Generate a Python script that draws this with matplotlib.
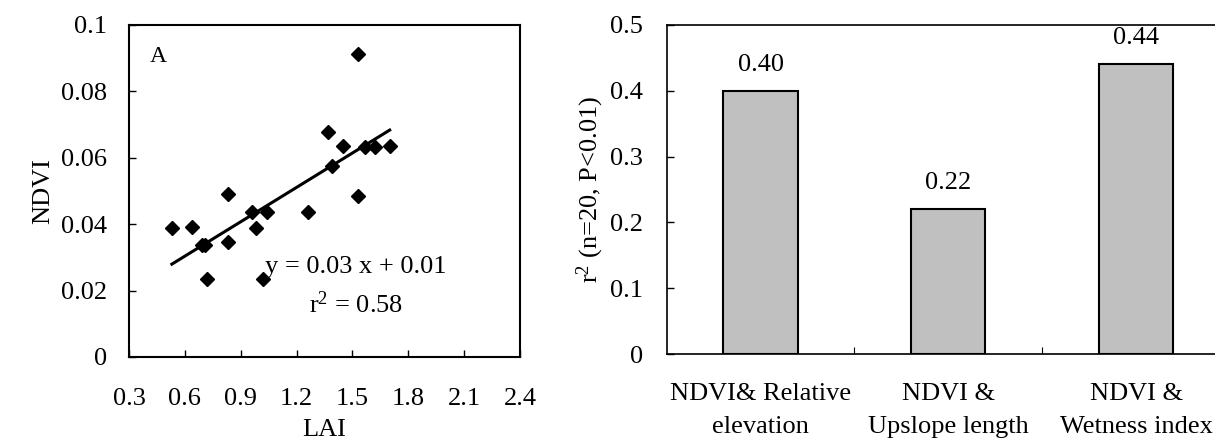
import numpy as np
import matplotlib
matplotlib.use("Agg")
import matplotlib.pyplot as plt

# LAI vs NDVI samples (n=20)
lai = [0.53, 0.64, 0.69, 0.71, 0.72, 0.83, 0.83, 0.96, 0.98, 1.02,
       1.04, 1.26, 1.37, 1.39, 1.45, 1.53, 1.53, 1.57, 1.62, 1.70]
ndvi = [0.0388, 0.0393, 0.0337, 0.0337, 0.0234, 0.0490, 0.0347, 0.0438, 0.0388, 0.0234,
        0.0438, 0.0438, 0.0679, 0.0576, 0.0636, 0.0913, 0.0485, 0.0634, 0.0634, 0.0636]

# r2 of NDVI against terrain factors
categories = ["NDVI& Relative\nelevation", "NDVI &\nUpslope length", "NDVI &\nWetness index"]
r2_values = [0.40, 0.22, 0.44]
r2_labels = ["0.40", "0.22", "0.44"]

x_ticks = [0.3, 0.6, 0.9, 1.2, 1.5, 1.8, 2.1, 2.4]
y_ticks_left = [0, 0.02, 0.04, 0.06, 0.08, 0.1]
y_ticks_right = [0, 0.1, 0.2, 0.3, 0.4, 0.5]

plt.rcParams['font.family'] = ['Liberation Serif', 'DejaVu Serif']
plt.rcParams['mathtext.fontset'] = 'custom'
plt.rcParams['mathtext.rm'] = 'Liberation Serif'
plt.rcParams['mathtext.it'] = 'Liberation Serif'
plt.rcParams['font.size'] = 19

fig = plt.figure(figsize=(12.15, 4.44), dpi=100)

# ---- panel A: scatter with regression line ----
ax1 = fig.add_axes([0.1062, 0.196, 0.3218, 0.7477])
ax1.plot(lai, ndvi, 'D', color='black', markersize=7.5)
slope, intercept = np.polyfit(lai, ndvi, 1)
xfit = np.array([min(lai), max(lai)])
ax1.plot(xfit, slope * xfit + intercept, color='black', linewidth=2.2)

ax1.set_xlim(0.3, 2.4)
ax1.set_ylim(0, 0.1)
ax1.set_xticks(x_ticks)
ax1.set_xticklabels([f"{v:.1f}" for v in x_ticks])
ax1.set_yticks(y_ticks_left)
ax1.set_yticklabels(["0", "0.02", "0.04", "0.06", "0.08", "0.1"])
ax1.tick_params(direction='in', length=5, width=1)
ax1.tick_params(axis='y', pad=16)
ax1.tick_params(axis='x', pad=22)
ax1.set_xlabel("LAI", labelpad=7)
ax1.set_ylabel("NDVI", labelpad=5)
for s in ax1.spines.values():
    s.set_linewidth(1.5)

ax1.text(0.41, 0.0904, "A", fontsize=17, va='center')
ax1.text(1.52, 0.0271, "y = 0.03 x + 0.01", ha='center', va='center')
ax1.text(1.52, 0.0157, "r$^{2}$ = 0.58", ha='center', va='center')

# ---- panel B: bar chart of r2 ----
ax2 = fig.add_axes([0.5487, 0.2027, 0.4636, 0.741])
pos = np.arange(len(categories))
bars = ax2.bar(pos, r2_values, width=0.395, color='#c0c0c0',
               edgecolor='black', linewidth=1.5)
for b, lab in zip(bars, r2_labels):
    ax2.annotate(lab, (b.get_x() + b.get_width() / 2, b.get_height()),
                 xytext=(0, 11), textcoords='offset points',
                 ha='center', va='bottom')

ax2.set_xlim(-0.5, 2.5)
ax2.set_ylim(0, 0.5)
ax2.set_yticks(y_ticks_right)
ax2.set_yticklabels(["0", "0.1", "0.2", "0.3", "0.4", "0.5"])
ax2.set_xticks(pos)
ax2.set_xticklabels(categories, linespacing=1.65)
ax2.set_xticks([0.5, 1.5], minor=True)
ax2.tick_params(axis='x', which='major', length=0, pad=21)
ax2.tick_params(axis='x', which='minor', direction='in', length=5, width=0.8)
ax2.tick_params(axis='y', direction='in', length=5, width=1, pad=17)
ax2.set_ylabel("r$^{2}$ (n=20, P<0.01)", labelpad=3)
for s in ax2.spines.values():
    s.set_linewidth(1.2)

fig.savefig("out.png", dpi=100)
